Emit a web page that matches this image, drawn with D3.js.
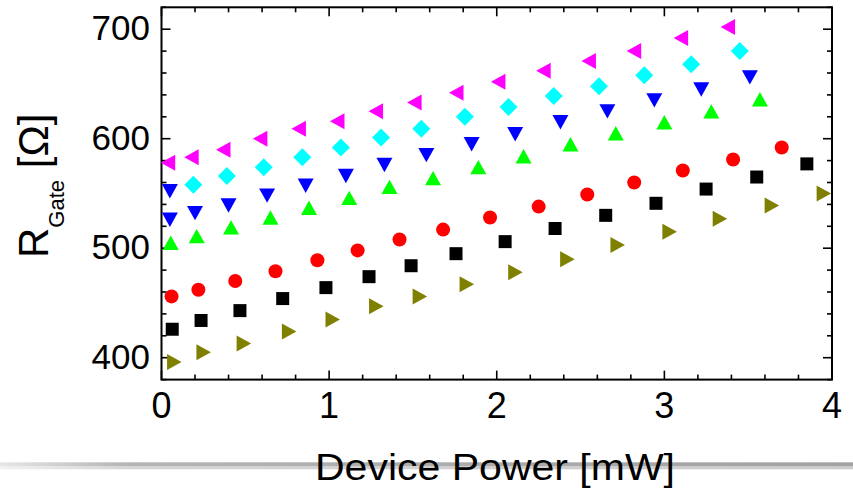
<!DOCTYPE html>
<html>
<head>
<meta charset="utf-8">
<script src="https://cdn.jsdelivr.net/npm/d3@7"></script>
<style>
  html, body { margin: 0; padding: 0; background: #fff; }
  svg { display: block; }
  text { font-family: "Liberation Sans", Arial, Helvetica, sans-serif; fill: #000; }
</style>
</head>
<body>
<script>
// ---- Data ----
const magentaX = [0.04, 0.18, 0.37, 0.59, 0.82, 1.05, 1.28, 1.51, 1.76, 2.01, 2.28, 2.55, 2.82, 3.10, 3.38];
const magentaY = [578, 583, 590, 600, 609, 616, 625, 633, 642, 652, 662, 671, 680, 692, 702];

const cyanX = [0.19, 0.39, 0.61, 0.84, 1.07, 1.31, 1.55, 1.81, 2.07, 2.34, 2.61, 2.88, 3.16, 3.45];
const cyanY = [558, 566, 574, 583, 592, 601, 609, 620, 629, 639, 648, 658, 668, 680];

const blueX = [0.05, 0.05, 0.20, 0.40, 0.63, 0.86, 1.10, 1.33, 1.58, 1.85, 2.11, 2.38, 2.66, 2.94, 3.22, 3.51];
const blueY = [552, 526, 532, 539, 548, 557, 566, 576, 585, 595, 604, 615, 625, 635, 645, 656];

const greenX = [0.055, 0.21, 0.415, 0.65, 0.88, 1.12, 1.36, 1.62, 1.89, 2.16, 2.44, 2.71, 3.00, 3.28, 3.57];
const greenY = [505, 511, 519, 528, 537, 546, 556, 564, 574, 584, 595, 605, 615, 625, 636];

const redX = [0.06, 0.22, 0.44, 0.68, 0.93, 1.17, 1.42, 1.68, 1.96, 2.25, 2.54, 2.82, 3.11, 3.41, 3.70];
const redY = [456, 462, 470, 479, 489, 498, 508, 517, 528, 538, 549, 560, 571, 581, 592];

const blackX = [0.064, 0.236, 0.468, 0.723, 0.981, 1.238, 1.489, 1.757, 2.05, 2.348, 2.65, 2.95, 3.249, 3.551, 3.85];
const blackY = [426, 434, 443, 454, 464, 474, 484, 495, 506, 518, 530, 541, 554, 565, 577];

const oliveX = [0.075, 0.25, 0.49, 0.76, 1.02, 1.28, 1.54, 1.82, 2.11, 2.42, 2.72, 3.03, 3.33, 3.64, 3.95];
const oliveY = [396, 405, 413, 424, 435, 447, 456, 467, 478, 490, 503, 515, 527, 539, 550];

const xTickLabels = [0, 1, 2, 3, 4];
const yTickLabels = [400, 500, 600, 700];
const xTitle = "Device Power [mW]";
const yTitleMain = "R";
const yTitleSub = "Gate";
const yTitleUnit = " [Ω]";

// ---- Layout ----
const W = 853, H = 489;
const pL = 161.5, pR = 832, pT = 7.3, pB = 379.6;

const svg = d3.select("body").append("svg").attr("width", W).attr("height", H);
svg.append("rect").attr("width", W).attr("height", H).attr("fill", "#fff");

// decorative slide bar
const defs = svg.append("defs");
const g1 = defs.append("linearGradient").attr("id", "barH").attr("x1", "0").attr("x2", "1").attr("y1", "0").attr("y2", "0");
g1.append("stop").attr("offset", "0").attr("stop-color", "#e6e6e6");
g1.append("stop").attr("offset", "0.15").attr("stop-color", "#b4b4b4");
g1.append("stop").attr("offset", "1").attr("stop-color", "#a2a2a2");
svg.append("rect").attr("x", 0).attr("y", 462.3).attr("width", W).attr("height", 4).attr("fill", "url(#barH)");
svg.append("rect").attr("x", 0).attr("y", 466.3).attr("width", W).attr("height", 3).attr("fill", "url(#barH)").attr("opacity", 0.55);

const x = d3.scaleLinear().domain([0, 4]).range([pL, pR]);
const y = d3.scaleLinear().domain([380, 720]).range([pB, pT]);

// ticks (all four sides, inward)
const tickG = svg.append("g").attr("stroke", "#000").attr("stroke-width", 1.6);
const xMinor = d3.range(0, 4.0001, 0.2);
const yMinor = d3.range(380, 720.001, 20);
xMinor.forEach(v => {
  const major = Math.abs(v - Math.round(v)) < 1e-6;
  const len = major ? 9 : 5;
  tickG.append("line").attr("x1", x(v)).attr("x2", x(v)).attr("y1", pB).attr("y2", pB - len);
  tickG.append("line").attr("x1", x(v)).attr("x2", x(v)).attr("y1", pT).attr("y2", pT + len);
});
yMinor.forEach(v => {
  const major = v % 100 === 0;
  const len = major ? 9 : 5;
  tickG.append("line").attr("y1", y(v)).attr("y2", y(v)).attr("x1", pL).attr("x2", pL + len);
  tickG.append("line").attr("y1", y(v)).attr("y2", y(v)).attr("x1", pR).attr("x2", pR - len);
});

// frame
svg.append("rect").attr("x", pL).attr("y", pT).attr("width", pR - pL).attr("height", pB - pT)
  .attr("fill", "none").attr("stroke", "#000").attr("stroke-width", 2);

// tick labels
svg.append("g").selectAll("text").data(xTickLabels).join("text")
  .attr("x", d => x(d)).attr("y", 418).attr("text-anchor", "middle")
  .attr("font-size", 36).text(d => d);
svg.append("g").selectAll("text").data(yTickLabels).join("text")
  .attr("x", 150).attr("y", d => y(d) + 10.8).attr("text-anchor", "end")
  .attr("font-size", 35).text(d => d);

// axis titles
svg.append("text").attr("x", 315).attr("y", 480).attr("font-size", 37)
  .attr("textLength", 360).attr("lengthAdjust", "spacingAndGlyphs").text(xTitle);

const yt = svg.append("text").attr("transform", "translate(48,258) rotate(-90)").attr("font-size", 42);
yt.append("tspan").text(yTitleMain);
yt.append("tspan").attr("font-size", 22).attr("dy", 16).text(yTitleSub);
yt.append("tspan").attr("dy", -16).text(yTitleUnit);

// markers
const shapes = {
  left:    "M7,-8L7,8L-7.5,0Z",
  right:   "M-7,-8L-7,8L7.5,0Z",
  up:      "M-8,7.2L8,7.2L0,-7.2Z",
  down:    "M-8,-7.2L8,-7.2L0,7.2Z",
  diamond: "M0,-9L9,0L0,9L-9,0Z",
  square:  "M-6.5,-6.5L6.5,-6.5L6.5,6.5L-6.5,6.5Z"
};

const series = [
  { xs: magentaX, ys: magentaY, color: "#ff00ff", shape: "left" },
  { xs: cyanX,    ys: cyanY,    color: "#00ffff", shape: "diamond" },
  { xs: blueX,    ys: blueY,    color: "#0000ff", shape: "down" },
  { xs: greenX,   ys: greenY,   color: "#00ff00", shape: "up" },
  { xs: redX,     ys: redY,     color: "#ff0000", shape: "circle" },
  { xs: blackX,   ys: blackY,   color: "#000000", shape: "square" },
  { xs: oliveX,   ys: oliveY,   color: "#808000", shape: "right" }
];

series.forEach(s => {
  const pts = s.xs.map((v, i) => [v, s.ys[i]]);
  const g = svg.append("g").attr("fill", s.color);
  if (s.shape === "circle") {
    g.selectAll("circle").data(pts).join("circle")
      .attr("cx", d => x(d[0])).attr("cy", d => y(d[1])).attr("r", 7);
  } else {
    g.selectAll("path").data(pts).join("path")
      .attr("transform", d => `translate(${x(d[0])},${y(d[1])})`)
      .attr("d", shapes[s.shape]);
  }
});
</script>
</body>
</html>
